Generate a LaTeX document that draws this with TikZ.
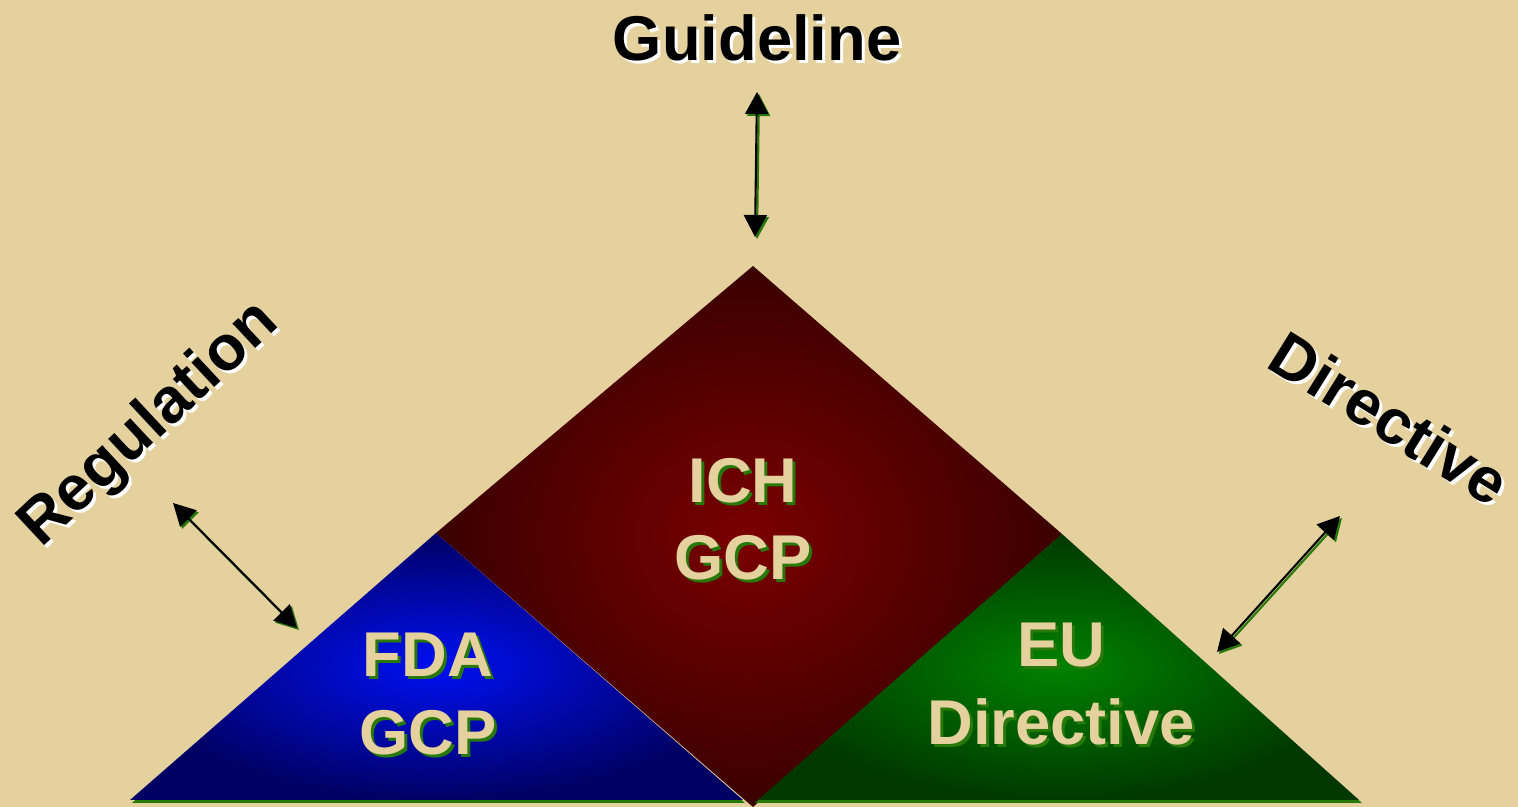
\documentclass[tikz,border=0pt]{standalone}
\usepackage{fontspec}
\setmainfont{Liberation Sans}
\usetikzlibrary{arrows.meta,calc}
\definecolor{sand}{RGB}{229,209,157}
\definecolor{leaf}{RGB}{40,120,10}
\definecolor{ichred}{RGB}{122,0,0}
\definecolor{ichdark}{RGB}{58,0,0}
\definecolor{fdablue}{RGB}{0,16,242}
\definecolor{fdadark}{RGB}{0,0,100}
\definecolor{eugreen}{RGB}{0,130,0}
\definecolor{eudark}{RGB}{0,56,0}
\def\droplabel#1(#2)[#3]#4#5#6{%
	\node[bigtext, text=#5, rotate=#3] (#1-s) at ($(#2)+(3,3)$) {#6};
	\node[bigtext, text=#4, rotate=#3] (#1) at (#2) {#6};}

\begin{document}
\begin{tikzpicture}[x=0.01cm, y=-0.01cm,
		bigtext/.style={font=\fontsize{18}{22}\selectfont\bfseries, align=center, inner sep=0pt},
		dblarrow/.style={line width=0.6pt, {Triangle[length=2.2mm,width=2.3mm]}-{Triangle[length=2.2mm,width=2.3mm]}}]
			%%%%% START %%%%%
			
			\useasboundingbox (0, 0) rectangle (1518, 807);
			\fill[sand] (0, 0) rectangle (1518, 807);
			
			\shade[inner color=ichred, outer color=ichdark] (753, 266) -- (436, 533) -- (753, 807) -- (1062, 534) -- cycle;
			
			\fill[leaf] (438, 536) -- (132, 803) -- (745, 803) -- cycle;
			\shade[inner color=fdablue, outer color=fdadark] (436, 533) -- (130, 800) -- (743, 800) -- cycle;
			
			\fill[leaf] (1061, 537) -- (755, 803) -- (1362, 803) -- cycle;
			\shade[inner color=eugreen, outer color=eudark] (1062, 534) -- (758, 800) -- (1359, 800) -- cycle;
			
			\droplabel ich(743, 519)[0]{sand}{leaf}{ICH\\GCP}
			\droplabel fda(428, 694)[0]{sand}{leaf}{FDA\\GCP}
			\droplabel eu(1061, 684)[0]{sand}{leaf}{EU\\Directive}
			
			\droplabel guide(757, 38)[0]{black}{white}{Guideline}
			\droplabel regul(150, 425)[43]{black}{white}{Regulation}
			\droplabel direc(1390, 418)[-32]{black}{white}{Directive}
			
			\coordinate (g1) at (757, 92);
			\coordinate (g2) at (755, 237);
			\coordinate (r1) at (173, 503);
			\coordinate (r2) at (297, 628);
			\coordinate (d1) at (1340, 516);
			\coordinate (d2) at (1217, 652);
			
			\draw[dblarrow, leaf] ([shift={(2,2)}]g1) -- ([shift={(2,2)}]g2);
			\draw[dblarrow] (g1) -- (g2);
			\draw[dblarrow, leaf] ([shift={(2,2)}]r1) -- ([shift={(2,2)}]r2);
			\draw[dblarrow] (r1) -- (r2);
			\draw[dblarrow, leaf] ([shift={(2,2)}]d1) -- ([shift={(2,2)}]d2);
			\draw[dblarrow] (d1) -- (d2);
			
			%%%%% END %%%%%
\end{tikzpicture}
\end{document}
